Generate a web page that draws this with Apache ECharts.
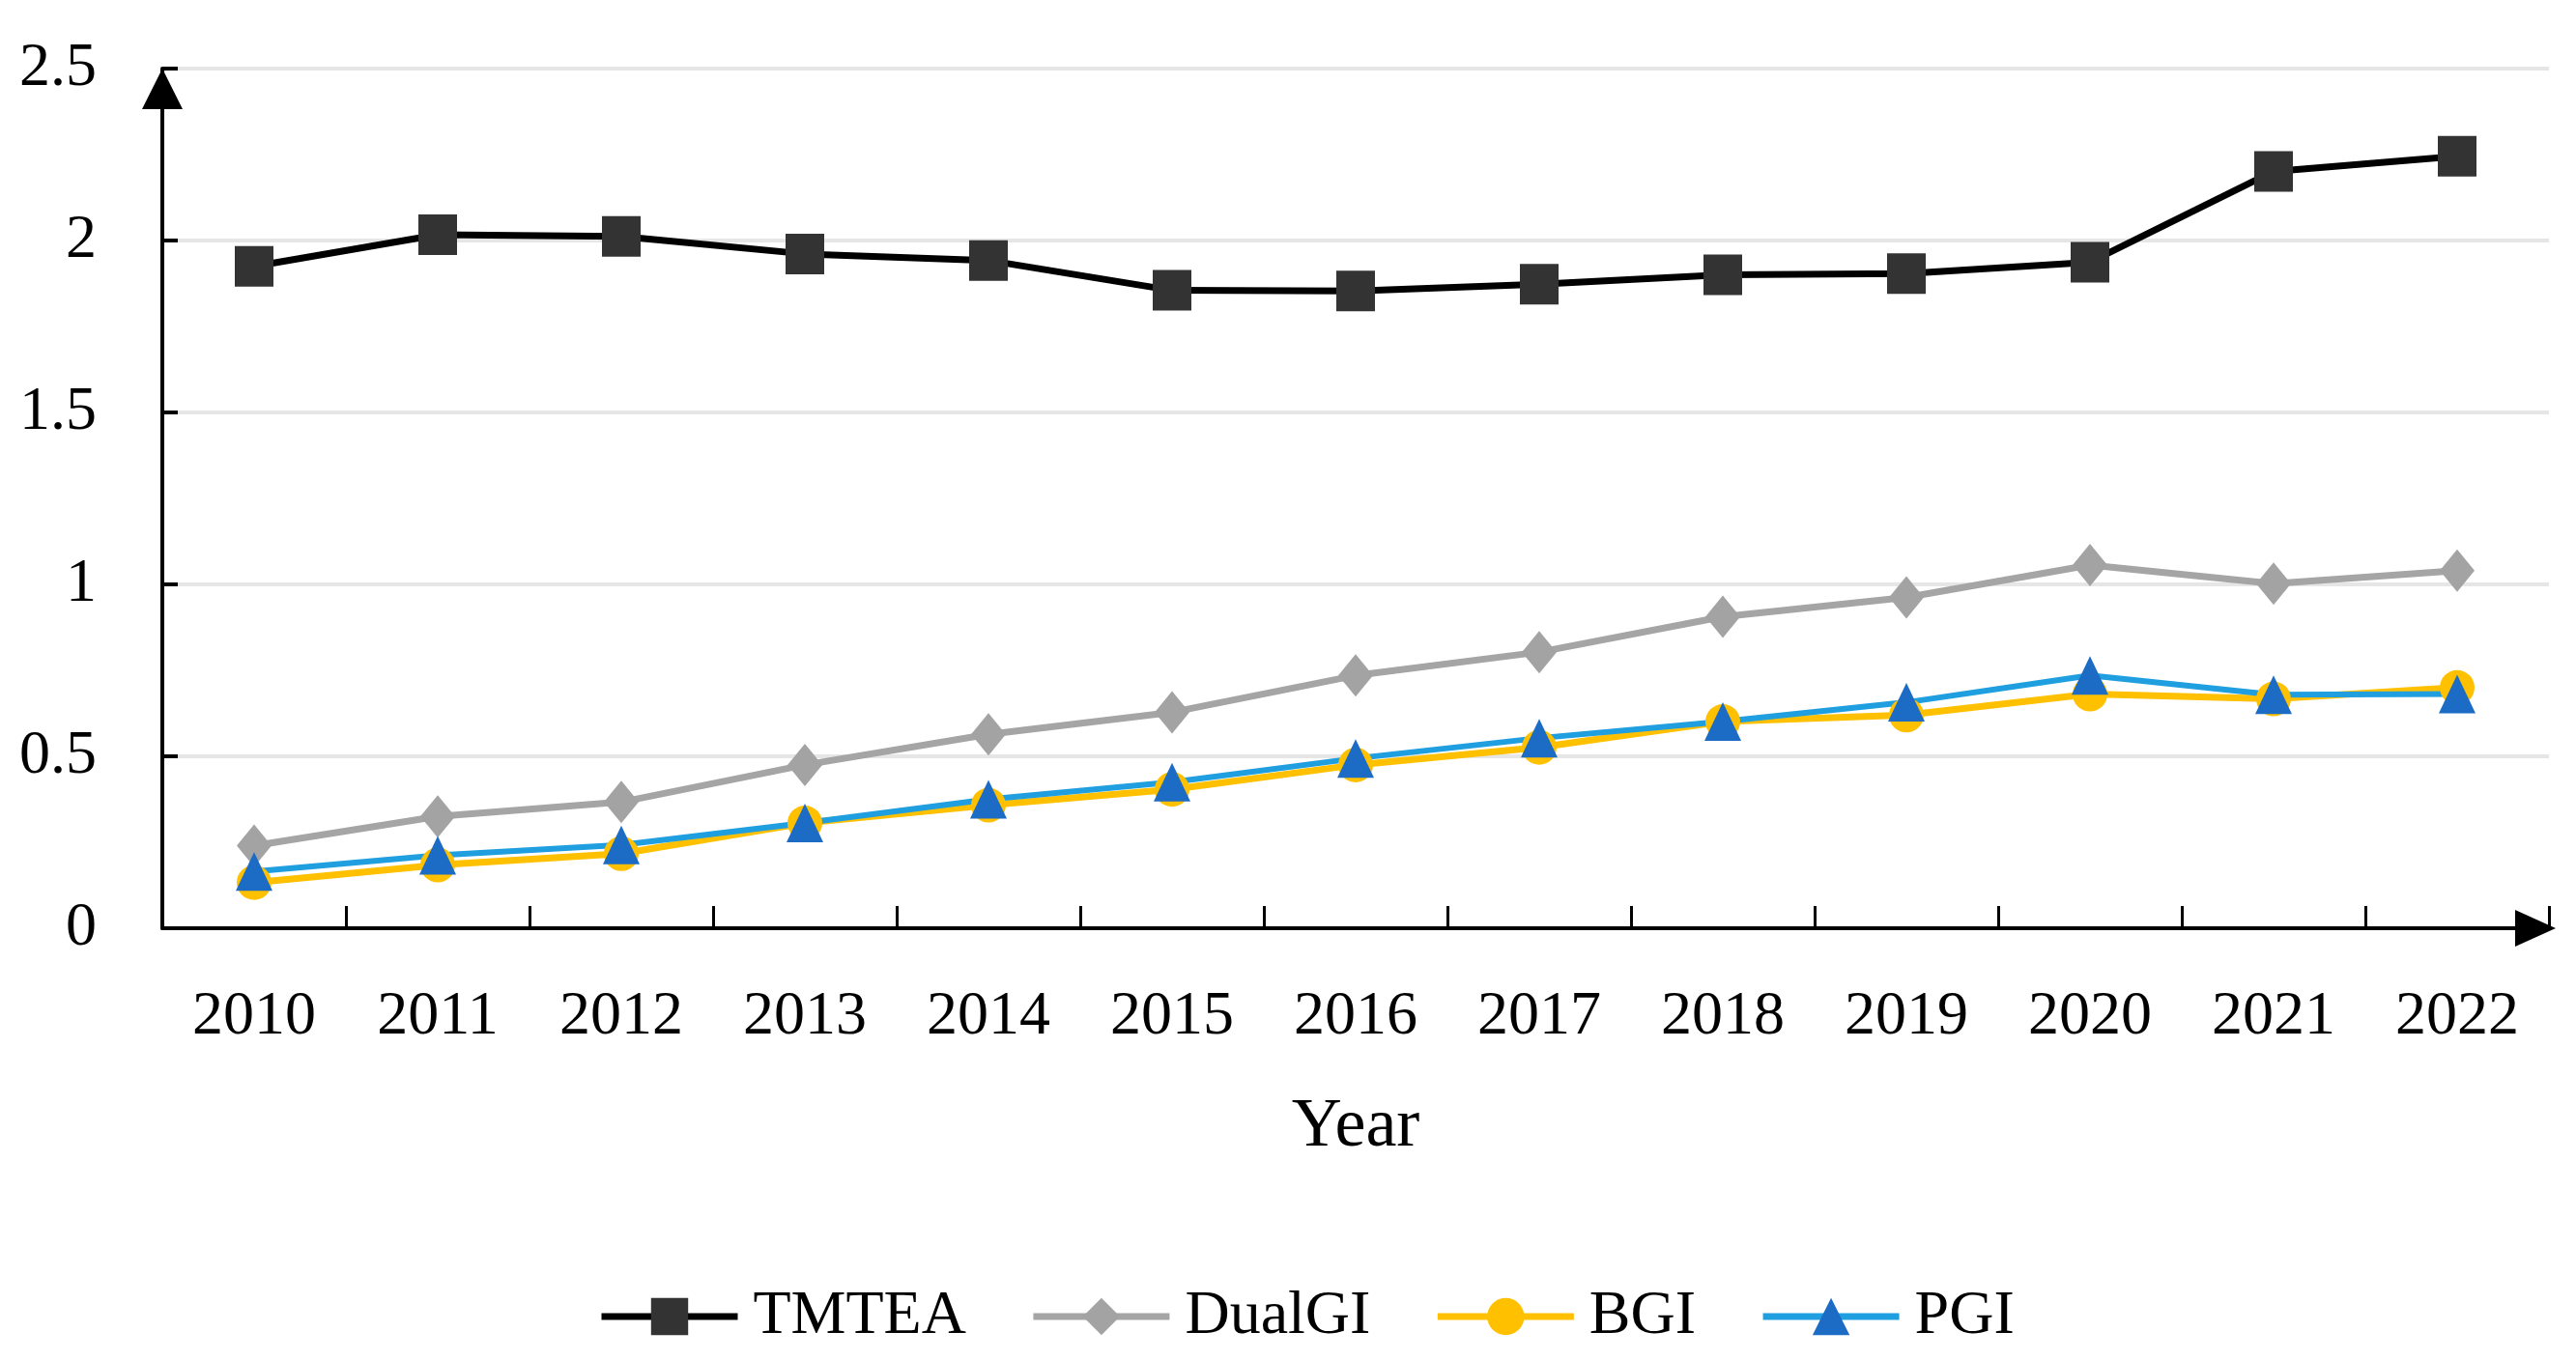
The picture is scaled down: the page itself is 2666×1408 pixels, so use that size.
<!DOCTYPE html>
<html>
<head>
<meta charset="utf-8">
<script src="https://cdn.jsdelivr.net/npm/echarts@6/dist/echarts.min.js"></script>
<style>
  html, body { margin: 0; padding: 0; background: #ffffff; }
  #chart { width: 2666px; height: 1408px; }
</style>
</head>
<body>
<div id="chart"></div>
<script>
const years = ['2010','2011','2012','2013','2014','2015','2016','2017','2018','2019','2020','2021','2022'];
const tmtea  = [1.925, 2.017, 2.012, 1.961, 1.942, 1.855, 1.853, 1.873, 1.900, 1.904, 1.937, 2.201, 2.245];
const dualGI = [0.240, 0.325, 0.367, 0.475, 0.564, 0.628, 0.735, 0.803, 0.906, 0.962, 1.056, 1.002, 1.040];
const bgi    = [0.133, 0.184, 0.217, 0.306, 0.358, 0.404, 0.475, 0.526, 0.601, 0.620, 0.681, 0.667, 0.700];
const pgi    = [0.165, 0.212, 0.242, 0.306, 0.375, 0.425, 0.494, 0.553, 0.601, 0.657, 0.735, 0.679, 0.681];
const yTicks = { min: 0, max: 2.5, interval: 0.5 };

const FONT = '"Liberation Serif", "DejaVu Serif", serif';

const chart = echarts.init(document.getElementById('chart'));
chart.setOption({
  animation: false,
  backgroundColor: '#ffffff',
  grid: { left: 168, right: 28, top: 71, bottom: 447, containLabel: false, outerBoundsMode: 'none' },
  legend: {
    left: 614, top: 1326,
    itemWidth: 141, itemHeight: 48, itemGap: 66,
    lineStyle: { width: 7 },
    textStyle: { fontFamily: FONT, fontSize: 64, color: '#000', padding: [0, 0, 0, 11] },
    data: ['TMTEA', 'DualGI', 'BGI', 'PGI']
  },
  xAxis: {
    type: 'category',
    data: years,
    boundaryGap: true,
    name: 'Year',
    nameLocation: 'middle',
    nameGap: 170,
    nameMoveOverlap: false,
    nameTextStyle: { fontFamily: FONT, fontSize: 72, color: '#000', verticalAlign: 'top' },
    axisLine: { show: true, lineStyle: { color: '#000', width: 4 }, symbol: ['none', 'triangle'], symbolSize: [38, 42], symbolOffset: [0, -14] },
    axisTick: { show: true, inside: true, length: 23, lineStyle: { color: '#000', width: 3 } },
    axisLabel: { interval: 0, margin: 60, fontFamily: FONT, fontSize: 64, color: '#000' },
    splitLine: { show: false }
  },
  yAxis: {
    type: 'value',
    min: yTicks.min, max: yTicks.max, interval: yTicks.interval,
    axisLine: { show: true, lineStyle: { color: '#000', width: 4 }, symbol: ['none', 'triangle'], symbolSize: [42, 42], symbolOffset: [0, -21] },
    axisTick: { show: true, inside: true, length: 16, lineStyle: { color: '#000', width: 4 } },
    axisLabel: { margin: 68, fontFamily: FONT, fontSize: 64, color: '#000' },
    splitLine: { show: true, lineStyle: { color: '#E6E6E6', width: 4 } }
  },
  series: [
    {
      name: 'TMTEA', type: 'line', data: tmtea,
      symbol: 'rect', symbolSize: [40, 42], showAllSymbol: true,
      itemStyle: { color: '#333333' },
      lineStyle: { color: '#000000', width: 7 }
    },
    {
      name: 'DualGI', type: 'line', data: dualGI,
      symbol: 'diamond', symbolSize: [36, 44], showAllSymbol: true,
      itemStyle: { color: '#A3A3A3' },
      lineStyle: { color: '#A5A5A5', width: 7 }
    },
    {
      name: 'BGI', type: 'line', data: bgi,
      symbol: 'circle', symbolSize: 36, showAllSymbol: true,
      itemStyle: { color: '#FFC000' },
      lineStyle: { color: '#FFC000', width: 7 }
    },
    {
      name: 'PGI', type: 'line', data: pgi,
      symbol: 'triangle', symbolSize: [38, 40], showAllSymbol: true,
      itemStyle: { color: '#1C6BC5' },
      lineStyle: { color: '#1F9EE0', width: 6 }
    }
  ]
});
</script>
</body>
</html>
